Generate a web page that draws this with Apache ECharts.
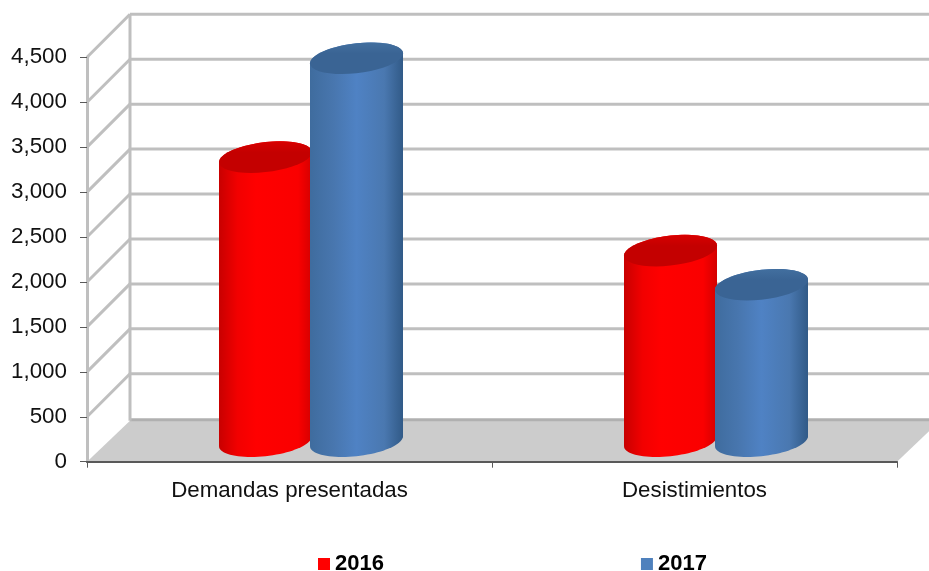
<!DOCTYPE html>
<html>
<head>
<meta charset="utf-8">
<title>Demandas</title>
<script src="https://cdn.jsdelivr.net/npm/echarts@6/dist/echarts.min.js"></script>
<style>
html, body { margin: 0; padding: 0; background: #fff; }
#main { width: 929px; height: 571px; }
</style>
</head>
<body>
<div id="main"></div>
<script>
var categories = ['Demandas presentadas', 'Desistimientos'];
var values2016 = [3150, 2110];
var values2017 = [4250, 1730];
var yTicks = [0, 500, 1000, 1500, 2000, 2500, 3000, 3500, 4000, 4500];

// fake 3d: the back wall is shifted by depth, bars stand half way in
var depth = 43;
var wallColor = '#bfbfbf';
var font = '"Liberation Sans", Arial, sans-serif';

function wallItem(params, api) {
    var rect = params.coordSys;
    var left = rect.x, right = rect.x + rect.width;
    var y = api.coord([0, api.value(1)])[1];
    var children = [];
    var lineStyle = {stroke: wallColor, lineWidth: 3};
    if (api.value(1) === 0) {
        children.push({
            type: 'polygon',
            shape: {points: [[left, y], [left + depth, y - depth + 2], [right + depth, y - depth + 2], [right, y]]},
            style: {fill: '#cccccc'}
        });
        children.push({
            type: 'line',
            shape: {x1: left + depth, y1: y - depth + 1, x2: right + depth, y2: y - depth + 1},
            style: {stroke: '#b0b0b0', lineWidth: 3}
        });
        children.push({
            type: 'line',
            shape: {x1: left + depth, y1: rect.y - depth, x2: left + depth, y2: y - depth + 2},
            style: lineStyle
        });
    } else {
        children.push({
            type: 'line',
            shape: {x1: left + depth, y1: y - depth, x2: right + depth, y2: y - depth},
            style: lineStyle
        });
        children.push({
            type: 'line',
            shape: {x1: left, y1: y, x2: left + depth, y2: y - depth},
            style: lineStyle
        });
    }
    return {type: 'group', children: children};
}

function ellipsePoints(cx, cy, from, to) {
    var pts = [];
    for (var i = 0; i <= 40; i++) {
        var t = from + (to - from) * i / 40;
        pts.push([cx + 46.5 * Math.cos(t), cy - 5 * Math.cos(t) + 15 * Math.sin(t)]);
    }
    return pts;
}

function cylinder(offset, stops, capStops) {
    return function (params, api) {
        var top = api.coord([api.value(0), api.value(1)]);
        var base = api.coord([api.value(0), 0]);
        var cx = top[0] + depth / 2 + offset;
        var topY = top[1] - depth / 2;
        var baseY = base[1] - depth / 2 + 1;
        var body = ellipsePoints(cx, baseY, 0, Math.PI).concat(ellipsePoints(cx, topY, Math.PI, Math.PI * 2));
        return {
            type: 'group',
            children: [{
                type: 'polygon',
                shape: {points: body},
                style: {fill: new echarts.graphic.LinearGradient(0, 0, 1, 0, stops)}
            }, {
                type: 'polygon',
                shape: {points: ellipsePoints(cx, topY, 0, Math.PI * 2)},
                style: {fill: new echarts.graphic.LinearGradient(0, 0, 0, 1, capStops)}
            }]
        };
    };
}

var redStops = [
    {offset: 0, color: '#c80000'},
    {offset: 0.2, color: '#f20000'},
    {offset: 0.4, color: '#ff0000'},
    {offset: 0.85, color: '#fa0000'},
    {offset: 1, color: '#d40000'}
];
var blueStops = [
    {offset: 0, color: '#3f6c9e'},
    {offset: 0.25, color: '#4876ae'},
    {offset: 0.5, color: '#4f82c4'},
    {offset: 0.8, color: '#4a78b0'},
    {offset: 1, color: '#315a87'}
];
var redCap = [{offset: 0, color: '#d80000'}, {offset: 0.35, color: '#c40000'}, {offset: 1, color: '#c40000'}];
var blueCap = [{offset: 0, color: '#426f9f'}, {offset: 0.35, color: '#3a6494'}, {offset: 1, color: '#3a6494'}];

var myChart = echarts.init(document.getElementById('main'), null, {renderer: 'canvas'});
var option = {
    animation: false,
    backgroundColor: '#fff',
    grid: {left: 87, right: 32, top: 57.3, bottom: 109.3},
    legend: {
        data: ['2016', '2017'],
        left: 313,
        top: 548,
        icon: 'rect',
        itemWidth: 12,
        itemHeight: 12,
        itemGap: 257,
        selectedMode: false,
        textStyle: {fontFamily: font, fontSize: 22, fontWeight: 'bold', color: '#000'}
    },
    xAxis: {
        type: 'category',
        data: categories,
        z: 5,
        axisLine: {lineStyle: {color: '#595959', width: 2}},
        axisTick: {show: true, alignWithLabel: false, length: 6, lineStyle: {color: '#595959', width: 1}},
        axisLabel: {fontFamily: font, fontSize: 22.3, color: '#111', margin: 18}
    },
    yAxis: {
        type: 'value',
        min: 0,
        max: 4500,
        interval: 500,
        splitLine: {show: false},
        axisLine: {show: true, lineStyle: {color: wallColor, width: 3}},
        axisTick: {show: true, length: 7, lineStyle: {color: '#595959', width: 1}},
        axisLabel: {fontFamily: font, fontSize: 22.4, color: '#111', margin: 20, padding: [3, 0, 0, 0]}
    },
    series: [{
        name: 'walls',
        type: 'custom',
        silent: true,
        z: 1,
        renderItem: wallItem,
        data: yTicks.map(function (t) { return [0, t]; })
    }, {
        name: '2016',
        type: 'custom',
        z: 2,
        itemStyle: {color: '#ff0000'},
        renderItem: cylinder(-45.5, redStops, redCap),
        data: values2016.map(function (v, i) { return [i, v]; })
    }, {
        name: '2017',
        type: 'custom',
        z: 3,
        itemStyle: {color: '#4f81bd'},
        renderItem: cylinder(45.5, blueStops, blueCap),
        data: values2017.map(function (v, i) { return [i, v]; })
    }]
};
myChart.setOption(option);
window.onresize = myChart.resize;
</script>
</body>
</html>
